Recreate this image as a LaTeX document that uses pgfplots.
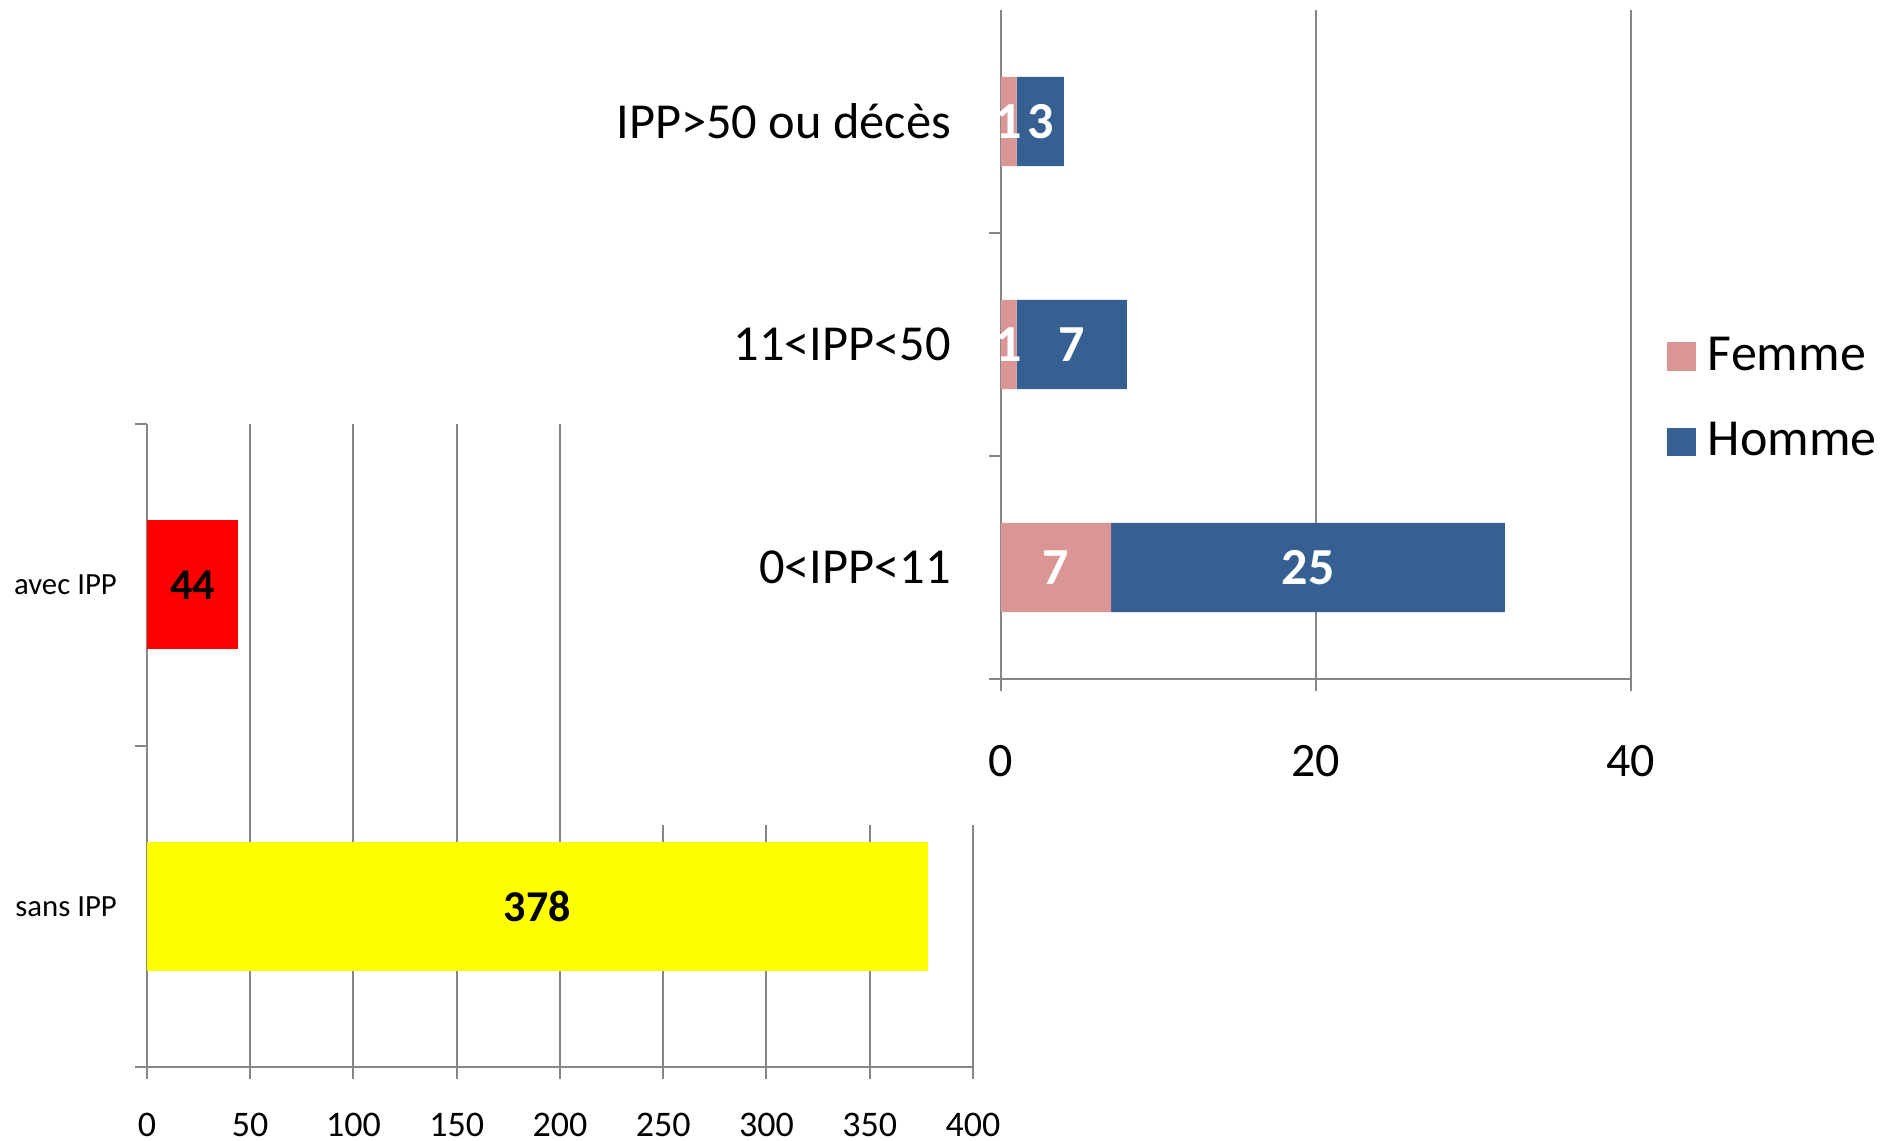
\documentclass[border=0pt]{standalone}
\usepackage{pgfplots}
\pgfplotsset{compat=1.18}
\usepackage{fontspec}
\setmainfont{Carlito}
\definecolor{femme}{HTML}{D99694}
\definecolor{homme}{HTML}{376092}
\definecolor{axgray}{HTML}{868686}
\definecolor{jaune}{HTML}{FFFF00}
\definecolor{rouge}{HTML}{FF0000}
\pgfplotsset{/pgf/number format/assume math mode=true}
\begin{document}
\begin{tikzpicture}
\useasboundingbox (0,0) rectangle (472.25pt,285pt);
% left chart: avec / sans IPP
\begin{axis}[
  at={(36.75pt,18.25pt)}, anchor=south west,
  scale only axis, width=206.5pt, height=160.75pt,
  clip=false,
  xmin=0, xmax=400, xtick distance=50,
  ymin=-0.5, ymax=1.5,
  ytick={-0.5,0.5,1.5}, y tick label as interval,
  yticklabels={sans IPP, avec IPP},
  axis lines=left, axis line style={-, axgray, line width=0.5pt},
  xmajorgrids, grid style={axgray, line width=0.5pt},
  tick align=outside, major tick length=3pt,
  tick style={axgray, line width=0.5pt},
  xticklabel style={font=\fontsize{9}{10}\selectfont, yshift=-5pt},
  yticklabel style={font=\fontsize{7.7}{10}\selectfont, xshift=-1pt},
  nodes near coords,
  every node near coord/.append style={anchor=center, font=\fontsize{11}{12}\bfseries, text=black,
    shift={(axis direction cs:-\rawx/2,0)}},
  visualization depends on={\thisrow{v} \as \rawx},
  point meta={\thisrow{v}},
]
\addplot[xbar, bar width=0.4, bar shift=0pt, fill=rouge, draw=none] table[x=v, y=c] {
v c
44 1
};
\addplot[xbar, bar width=0.4, bar shift=0pt, fill=jaune, draw=none] table[x=v, y=c] {
v c
378 0
};
\end{axis}
% white panel of the second chart
\fill[white] (155pt,78.75pt) rectangle (472.25pt,285pt);
% right chart: Femme / Homme
\begin{axis}[
  at={(250.25pt,115.25pt)}, anchor=south west,
  scale only axis, width=157.5pt, height=167.25pt,
  clip=false,
  xbar stacked, bar width=0.4,
  xmin=0, xmax=40, xtick={0,20,40},
  ymin=-0.5, ymax=2.5,
  ytick={0,1,2}, yticklabels={0<IPP<11, 11<IPP<50, IPP>50 ou décès},
  extra y ticks={-0.5,0.5,1.5}, extra y tick labels={},
  extra y tick style={major tick length=3pt, ytick style={draw=axgray, line width=0.5pt}},
  axis lines=left, axis line style={-, axgray, line width=0.5pt},
  xmajorgrids, grid style={axgray, line width=0.5pt},
  tick align=outside, major tick length=3pt,
  ytick style={draw=none},
  xtick style={axgray, line width=0.5pt},
  xticklabel style={font=\fontsize{12}{14}\selectfont, yshift=-10pt},
  yticklabel style={font=\fontsize{12.6}{15}\selectfont, xshift=-6pt},
  nodes near coords,
  every node near coord/.append style={anchor=center, font=\fontsize{13}{14}\bfseries, text=white},
  point meta={\thisrow{v}},
  legend cell align=left,
  legend style={draw=none, fill=none, at={(1.037,0.418)}, anchor=west,
    font=\fontsize{13}{15}\selectfont, row sep=7.5pt, column sep=1pt},
  legend image code/.code={\path[#1, draw=none] (0pt,-3.6pt) rectangle (7.2pt,3.6pt);},
]
\addplot[fill=femme, draw=none] table[x=v, y=c] {
v c
7 0
1 1
1 2
};
\addplot[fill=homme, draw=none] table[x=v, y=c] {
v c
25 0
7 1
3 2
};
\legend{Femme, Homme}
\end{axis}
\end{tikzpicture}
\end{document}
